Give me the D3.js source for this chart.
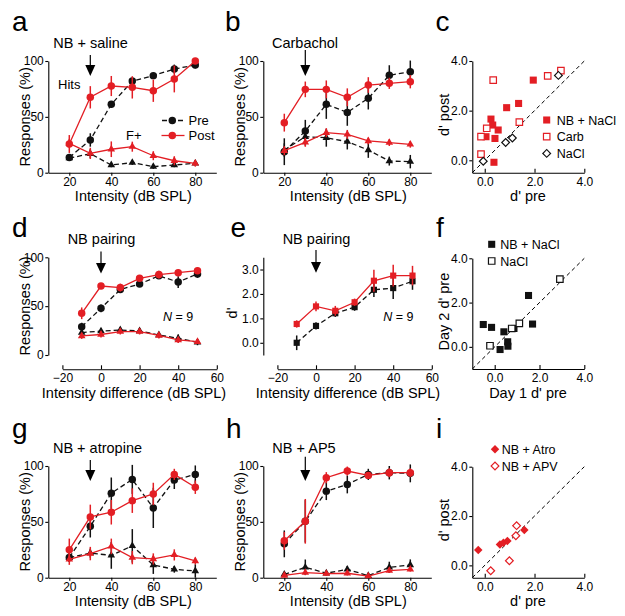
<!DOCTYPE html>
<html><head><meta charset="utf-8">
<script src="https://cdn.jsdelivr.net/npm/d3@7"></script>
<style>
body{margin:0;background:#fff}
svg text{font-family:"Liberation Sans",Arial,Helvetica,sans-serif;fill:#000}
</style></head><body>
<svg id="fig" width="625" height="616"></svg>
<script>
// ---------- data ----------
const intensity = [20,30,40,50,60,70,80];
const intensityTicks = [20,40,60,80];
const intensityDiff = [-10,0,10,20,30,40,50];
const diffTicks = [-20,0,20,40,60];
const pctTicks = [0,50,100];
const dprimeTicks = [0,1,2,3];
const scatterTicks = [0,2,4];

// panel a: NB + saline
const aHitsPre = [13.7,29.3,61.2,82,86.9,92.8,96.4];
const aHitsPreErr = [3,6,3,3,2,4,3];
const aHitsPost = [25.7,67.5,77.6,76.4,73.4,83.9,100];
const aHitsPostErr = [8,10,9,10,10,12,2];
const aFaPre = [13,17,6.9,9,5.4,6.9,8.4];
const aFaPreErr = [2,4,2,2,2,2,2];
const aFaPost = [26.3,17.3,21,23.3,15.2,10.7,8.4];
const aFaPostErr = [4,5,7,4.5,4,4,3];

// panel b: Carbachol
const bHitsPre = [18.8,37.3,61.2,54,66.6,87.2,90.4];
const bHitsPreErr = [12,10,13,12,10,9,10];
const bHitsPost = [44.8,74.6,74.6,67.5,78.5,80,81.5];
const bHitsPostErr = [8,7,8,8,7,5,6];
const bFaPre = [20.3,32.2,31.3,27.8,20.3,10.4,9.9];
const bFaPreErr = [6,8,8,7,7,4,6];
const bFaPost = [19.7,27.2,35.8,34.3,28.4,26.9,25.4];
const bFaPostErr = [4,4,4,4,3,3,3];

// panel c: d' pre vs post
const cNbNaclPre = [1.95,1.36,0.88,0.25,0.32,0.54,0.05,0.41,0.37];
const cNbNaclPost = [3.23,2.29,2.12,1.66,1.42,1.22,0.95,0.88,-0.08];
const cCarbPre = [0.34,2.53,3.06,1.39,0.08,-0.15,-0.15];
const cCarbPost = [3.23,3.40,3.61,1.54,1.29,0.95,0.25];
const cNaclPre = [2.96,1.11,0.84,-0.06];
const cNaclPost = [3.42,0.90,0.72,-0.04];

// panel d: NB pairing responses vs intensity difference
const dHitsPre = [29,47.8,67,72.7,81,74.7,83];
const dHitsPreErr = [4,4,3,3,3,6,4];
const dHitsPost = [42.7,70.6,69,78.5,82.3,84.3,86.3];
const dHitsPostErr = [6,3,4,3,4,3,3];
const dFaPre = [23,24.5,25.6,24.6,20.5,17,13];
const dFaPreErr = [3,3,3,3,3,4,3];
const dFaPost = [19.5,21,24,24,20,15.4,13.6];
const dFaPostErr = [3,3,3,3,3,3,2];

// panel e: d'
const eDPre = [0,0.69,1.21,1.46,2.17,2.24,2.52];
const eDPreErr = [0.3,0.15,0.15,0.15,0.3,0.45,0.35];
const eDPost = [0.77,1.49,1.31,1.66,2.54,2.75,2.75];
const eDPostErr = [0.15,0.2,0.2,0.15,0.45,0.45,0.4];

// panel f: day 1 vs day 2
const fNbNaclDay1 = [1.51,1.69,-0.51,-0.14,0.41,0.86,0.58,0.59,0.24];
const fNbNaclDay2 = [2.32,1.03,1.01,0.88,0.68,0.83,0.23,0.03,-0.12];
const fNaclDay1 = [2.91,1.10,0.76,-0.21];
const fNaclDay2 = [3.06,1.06,0.83,0.05];

// panel g: NB + atropine
const gHitsPre = [18,46,75.7,88,62.5,87.4,92.5];
const gHitsPreErr = [4,10,14,13,18,8,8];
const gHitsPost = [25,54.4,58.6,69,75,92.5,81];
const gHitsPostErr = [10,11,11,11,10,5,6];
const gFaPre = [18,22,20,28.5,11.4,7.5,6];
const gFaPreErr = [4,4,12,15,8,3,6];
const gFaPost = [16.5,21.6,28,18,16.8,20.4,15];
const gFaPostErr = [5,6,7,6,5,5,3];

// panel h: NB + AP5
const hHitsPre = [30.3,50.5,77.5,83.5,92.5,94,93.4];
const hHitsPreErr = [12,19,8,8,5,6,8];
const hHitsPost = [33,50.5,89.5,95.5,91.6,94,94];
const hHitsPostErr = [8,20,5,4,3,4,4];
const hFaPre = [3,9.3,4,7.5,1.8,9.3,11.4];
const hFaPreErr = [2,7,2,3,1,5,5];
const hFaPost = [2,4.5,3.6,4,1.5,6.3,7.5];
const hFaPostErr = [1,2,2,2,1,2,2];

// panel i
const iAtroPre = [-0.26,0.61,0.75,0.91,1.59];
const iAtroPost = [0.62,0.85,0.92,0.99,1.43];
const iApvPre = [1.28,1.25,0.99,0.24];
const iApvPost = [1.61,1.2,0.19,-0.22];

// ---------- drawing ----------
const RED = "#E31E24", BLK = "#111";
const FONT = '"Liberation Sans",Arial,Helvetica,sans-serif';
const svg = d3.select("#fig");

function styleAxis(sel){
  sel.attr("font-family", FONT).attr("font-size", 12);
  sel.selectAll("path.domain").attr("stroke", "#000").attr("stroke-width", 1.1);
  sel.selectAll(".tick line").attr("stroke", "#000").attr("stroke-width", 1.1);
  sel.selectAll(".tick text").attr("fill", "#000");
}
function text(x, y, s, size, anchor, extra){
  const t = svg.append("text").attr("x", x).attr("y", y).attr("font-size", size)
    .attr("text-anchor", anchor || "start").text(s);
  if (extra) extra(t);
  return t;
}
function vtext(x, y, s, size){
  return svg.append("text").attr("transform", `translate(${x},${y}) rotate(-90)`)
    .attr("text-anchor", "middle").attr("font-size", size).text(s);
}
function symbolPath(shape, size){
  return d3.symbol(shape, size)();
}
function series(g, x, y, xs, vals, errs, color, dashed, shape, size){
  const pts = xs.map((v,i)=>({x:v, y:vals[i], e: errs ? errs[i] : 0}));
  g.append("path").datum(pts)
    .attr("d", d3.line().x(d=>x(d.x)).y(d=>y(d.y)))
    .attr("fill","none").attr("stroke",color).attr("stroke-width",1.3)
    .attr("stroke-dasharray", dashed ? "5,3" : null);
  if (errs) {
    g.selectAll(null).data(pts).join("line")
      .attr("x1", d=>x(d.x)).attr("x2", d=>x(d.x))
      .attr("y1", d=>y(d.y - d.e)).attr("y2", d=>y(d.y + d.e))
      .attr("stroke", color).attr("stroke-width", 1.5);
  }
  g.selectAll(null).data(pts).join("path")
    .attr("transform", d=>`translate(${x(d.x)},${y(d.y)})`)
    .attr("d", symbolPath(shape, size))
    .attr("fill", color);
}
function arrow(x, yTop, yHeadTop, yTip){
  svg.append("line").attr("x1",x).attr("x2",x).attr("y1",yTop).attr("y2",yHeadTop+1)
    .attr("stroke","#000").attr("stroke-width",1.2);
  svg.append("path").attr("d", `M${x-5},${yHeadTop}L${x+5},${yHeadTop}L${x},${yTip}Z`).attr("fill","#000");
}

const CIRC = 44, TRI = 25;

// response-vs-intensity panels (a, b, g, h)
function responsePanel(cfg){
  const g = svg.append("g");
  const x = d3.scaleLinear().domain([10,90]).range([cfg.left, cfg.left + 168]);
  const y = d3.scaleLinear().domain([0,100]).range([cfg.bottom, cfg.bottom - 111.7]);
  g.append("g").attr("transform", `translate(0,${y(0)})`)
    .call(d3.axisBottom(x).tickValues(intensityTicks).tickSizeInner(3).tickSizeOuter(0).tickPadding(2))
    .call(styleAxis);
  g.append("g").attr("transform", `translate(${x(10)},0)`)
    .call(d3.axisLeft(y).tickValues(pctTicks).tickSizeInner(3).tickSizeOuter(0).tickPadding(1.5))
    .call(styleAxis);
  series(g, x, y, intensity, cfg.faPre, cfg.faPreErr, BLK, true, d3.symbolTriangle, TRI);
  series(g, x, y, intensity, cfg.hitsPre, cfg.hitsPreErr, BLK, true, d3.symbolCircle, CIRC);
  series(g, x, y, intensity, cfg.faPost, cfg.faPostErr, RED, false, d3.symbolTriangle, TRI);
  series(g, x, y, intensity, cfg.hitsPost, cfg.hitsPostErr, RED, false, d3.symbolCircle, CIRC);
  arrow(x(30), cfg.arrow[0], cfg.arrow[1], cfg.arrow[2]);
  vtext(cfg.left - 18.5, (y(0)+y(100))/2, "Responses (%)", 14.5);
  text((x.range()[0]+x.range()[1])/2 + 1, cfg.bottom + 28, "Intensity (dB SPL)", 14.5, "middle");
  text(cfg.titleX, cfg.bottom - 125, cfg.title, 14.5, "middle");
  return {x, y};
}

function scatterPanel(cfg){
  const g = svg.append("g");
  const x = d3.scaleLinear().domain([cfg.min,4]).range([472.3, 584.3]);
  const y = d3.scaleLinear().domain([cfg.min,4]).range([cfg.bottom, cfg.top]);
  g.append("g").attr("transform", `translate(0,${cfg.bottom})`)
    .call(d3.axisBottom(x).tickValues(scatterTicks).tickFormat(d3.format(".1f"))
      .tickSizeInner(-4).tickSizeOuter(0).tickPadding(cfg.xpad))
    .call(styleAxis);
  g.append("g").attr("transform", `translate(${x(cfg.min)},0)`)
    .call(d3.axisLeft(y).tickValues(scatterTicks).tickFormat(d3.format(".1f"))
      .tickSizeInner(3).tickSizeOuter(0).tickPadding(1.5))
    .call(styleAxis);
  g.append("line").attr("x1", x(cfg.min)).attr("y1", y(cfg.min)).attr("x2", x(4)).attr("y2", y(4))
    .attr("stroke","#000").attr("stroke-width",1).attr("stroke-dasharray","4,3");
  cfg.sets.forEach(s=>{
    g.selectAll(null).data(s.xs.map((v,i)=>[v, s.ys[i]])).join("path")
      .attr("transform", d=>`translate(${x(d[0])},${y(d[1])})${s.rot ? " rotate(45)" : ""}`)
      .attr("d", symbolPath(d3.symbolSquare, s.size))
      .attr("fill", s.open ? "#fff" : s.color)
      .attr("stroke", s.color).attr("stroke-width", s.open ? 1.2 : 0);
  });
  // legend
  cfg.sets.forEach((s,i)=>{
    const ly = cfg.legY + i * cfg.legDy;
    svg.append("path").attr("transform", `translate(${cfg.legX},${ly})${s.rot ? " rotate(45)" : ""}`)
      .attr("d", symbolPath(d3.symbolSquare, s.size))
      .attr("fill", s.open ? "#fff" : s.color)
      .attr("stroke", s.color).attr("stroke-width", s.open ? 1.2 : 0);
    text(cfg.legX + cfg.legTx, ly + 4.5, s.label, 12.5, "start");
  });
  vtext(449, (cfg.top + cfg.bottom)/2 - 2, cfg.ylabel, 14.5);
  text(528, cfg.bottom + cfg.xtitle, cfg.xlabel, 14.5, "middle");
}

function diffAxes(g, x, yAxisX, y, yTicks, yFmt){
  g.append("g").attr("transform", `translate(0,369.3)`)
    .call(d3.axisBottom(x).tickValues(diffTicks).tickSizeInner(-4).tickSizeOuter(0).tickPadding(4))
    .call(styleAxis);
  g.append("g").attr("transform", `translate(${yAxisX},0)`)
    .call(d3.axisLeft(y).tickValues(yTicks).tickFormat(yFmt).tickSizeInner(3).tickSizeOuter(0).tickPadding(1.5))
    .call(styleAxis);
}

// ---- a ----
responsePanel({left:48.3, bottom:172.7, hitsPre:aHitsPre, hitsPreErr:aHitsPreErr, hitsPost:aHitsPost, hitsPostErr:aHitsPostErr,
  faPre:aFaPre, faPreErr:aFaPreErr, faPost:aFaPost, faPostErr:aFaPostErr, arrow:[55,65,76], title:"NB + saline", titleX:90.5});
text(58, 89, "Hits", 13);
text(126, 140, "F+", 13);
// legend a
svg.append("line").attr("x1",162).attr("x2",183).attr("y1",120.5).attr("y2",120.5)
  .attr("stroke",BLK).attr("stroke-width",1.3).attr("stroke-dasharray","5,3");
svg.append("path").attr("transform","translate(172.3,120.5)").attr("d",symbolPath(d3.symbolCircle,CIRC)).attr("fill",BLK);
svg.append("line").attr("x1",161.5).attr("x2",184.5).attr("y1",135.5).attr("y2",135.5).attr("stroke",RED).attr("stroke-width",1.3);
svg.append("path").attr("transform","translate(172.3,135.5)").attr("d",symbolPath(d3.symbolCircle,CIRC)).attr("fill",RED);
text(188.5, 125, "Pre", 13);
text(188.5, 140, "Post", 13);

// ---- b ----
responsePanel({left:263.3, bottom:172.7, hitsPre:bHitsPre, hitsPreErr:bHitsPreErr, hitsPost:bHitsPost, hitsPostErr:bHitsPostErr,
  faPre:bFaPre, faPreErr:bFaPreErr, faPost:bFaPost, faPostErr:bFaPostErr, arrow:[50,65,76], title:"Carbachol", titleX:305});

// ---- c ----
scatterPanel({min:-0.5, top:61, bottom:172.7, xpad:5, xtitle:28, ylabel:"d' post", xlabel:"d' pre",
  legX:546.7, legY:120, legDy:16.7, legTx:10,
  sets:[
    {xs:cNbNaclPre, ys:cNbNaclPost, color:RED, open:false, size:50, label:"NB + NaCl"},
    {xs:cCarbPre, ys:cCarbPost, color:RED, open:true, size:42, label:"Carb"},
    {xs:cNaclPre, ys:cNaclPost, color:BLK, open:true, size:30, rot:true, label:"NaCl"}
  ]});

// ---- d ----
{
  const g = svg.append("g");
  const x = d3.scaleLinear().domain([-20,60]).range([62.4, 216.8]);
  const y = d3.scaleLinear().domain([0,100]).range([355, 257.3]);
  diffAxes(g, x, 48.3, y, pctTicks, d3.format("d"));
  series(g, x, y, intensityDiff, dFaPre, dFaPreErr, BLK, true, d3.symbolTriangle, TRI);
  series(g, x, y, intensityDiff, dHitsPre, dHitsPreErr, BLK, true, d3.symbolCircle, CIRC);
  series(g, x, y, intensityDiff, dFaPost, dFaPostErr, RED, false, d3.symbolTriangle, TRI);
  series(g, x, y, intensityDiff, dHitsPost, dHitsPostErr, RED, false, d3.symbolCircle, CIRC);
  arrow(x(0), 251.5, 263, 273.5);
  text(101.5, 243.7, "NB pairing", 14.5, "middle");
  vtext(29.8, 306, "Responses (%)", 14.5);
  text(134, 398, "Intensity difference (dB SPL)", 14.5, "middle");
  const t = text(163, 320.5, "", 12.5, "start");
  t.append("tspan").attr("font-style","italic").text("N");
  t.append("tspan").text(" = 9");
}

// ---- e ----
{
  const g = svg.append("g");
  const x = d3.scaleLinear().domain([-20,60]).range([277.4, 431.8]);
  const y = d3.scaleLinear().domain([-0.5,3.5]).range([355, 257.3]);
  diffAxes(g, x, 263.3, y, dprimeTicks, d3.format(".1f"));
  series(g, x, y, intensityDiff, eDPre, eDPreErr, BLK, true, d3.symbolSquare, 38);
  series(g, x, y, intensityDiff, eDPost, eDPostErr, RED, false, d3.symbolSquare, 38);
  arrow(x(0), 250, 262, 272.7);
  text(316.5, 244, "NB pairing", 14.5, "middle");
  vtext(237, 313, "d'", 14.5);
  text(348, 398, "Intensity difference (dB SPL)", 14.5, "middle");
  const t = text(383.3, 320.5, "", 12.5, "start");
  t.append("tspan").attr("font-style","italic").text("N");
  t.append("tspan").text(" = 9");
}

// ---- f ----
scatterPanel({min:-1, top:258.3, bottom:369, xpad:4.5, xtitle:29, ylabel:"Day 2 d' pre", xlabel:"Day 1 d' pre",
  legX:491.7, legY:244.3, legDy:16.7, legTx:8.5,
  sets:[
    {xs:fNbNaclDay1, ys:fNbNaclDay2, color:BLK, open:false, size:50, label:"NB + NaCl"},
    {xs:fNaclDay1, ys:fNaclDay2, color:BLK, open:true, size:42, label:"NaCl"}
  ]});

// ---- g ----
responsePanel({left:48.3, bottom:577.7, hitsPre:gHitsPre, hitsPreErr:gHitsPreErr, hitsPost:gHitsPost, hitsPostErr:gHitsPostErr,
  faPre:gFaPre, faPreErr:gFaPreErr, faPost:gFaPost, faPostErr:gFaPostErr, arrow:[460,470,481], title:"NB + atropine", titleX:97.5});

// ---- h ----
responsePanel({left:263.3, bottom:577.7, hitsPre:hHitsPre, hitsPreErr:hHitsPreErr, hitsPost:hHitsPost, hitsPostErr:hHitsPostErr,
  faPre:hFaPre, faPreErr:hFaPreErr, faPost:hFaPost, faPostErr:hFaPostErr, arrow:[456.7,470,481], title:"NB + AP5", titleX:304});

// ---- i ----
scatterPanel({min:-0.5, top:466.7, bottom:577.7, xpad:5, xtitle:28, ylabel:"d' post", xlabel:"d' pre",
  legX:495, legY:449.3, legDy:16.7, legTx:6.7,
  sets:[
    {xs:iAtroPre, ys:iAtroPost, color:RED, open:false, size:36, rot:true, label:"NB + Atro"},
    {xs:iApvPre, ys:iApvPost, color:RED, open:true, size:30, rot:true, label:"NB + APV"}
  ]});

// panel letters
[["a",12,30.5],["b",225,30.5],["c",435.5,30.5],["d",12,236.7],["e",230.5,237],["f",436,236.7],
 ["g",12,437.5],["h",226,438],["i",436,438]].forEach(([s,x,y])=>text(x,y,s,28));
</script>
</body></html>
